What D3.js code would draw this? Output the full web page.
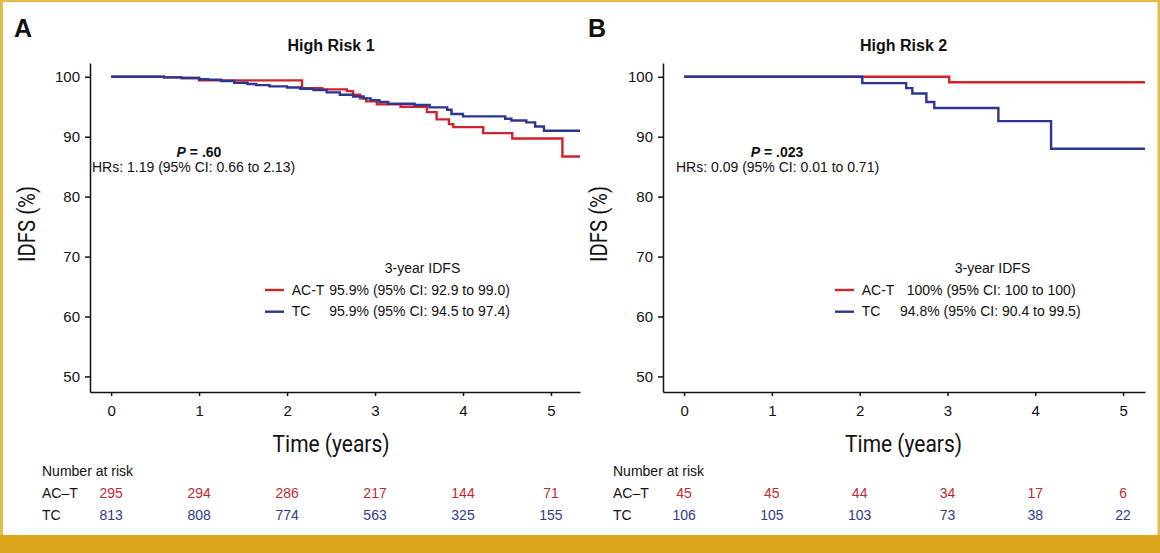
<!DOCTYPE html>
<html><head><meta charset="utf-8">
<script src="https://cdn.jsdelivr.net/npm/d3@7"></script>
<style>
body{margin:0;background:#fff}
svg{display:block}
text{font-family:"Liberation Sans",Arial,Helvetica,sans-serif;fill:#111}
.cond{font-family:Roboto,"Liberation Sans",sans-serif}
</style>
</head><body>
<svg id="c" width="1160" height="553"></svg>
<script>
// ---------- DATA ----------
const timeTicks = [0, 1, 2, 3, 4, 5];
const idfsTicks = [50, 60, 70, 80, 90, 100];
const groups = ["AC\u2013T", "TC"];

// Panel A (High Risk 1) Kaplan-Meier step points: time (years), IDFS (%)
const hr1_ACT_time = [0, 0.6, 0.8, 1.0, 2.17, 2.4, 2.68, 2.75, 2.83, 2.9, 3.02, 3.29, 3.59, 3.7, 3.84, 3.89, 4.23, 4.56, 5.13, 5.33];
const hr1_ACT_idfs = [100, 99.9, 99.8, 99.4, 98.1, 97.9, 97.6, 97.0, 96.4, 95.9, 95.4, 95.0, 94.1, 92.9, 92.1, 91.6, 90.6, 89.7, 86.7, 86.7];
const hr1_TC_time = [0, 0.6, 0.8, 1.0, 1.1, 1.25, 1.4, 1.55, 1.65, 1.8, 2.0, 2.15, 2.3, 2.45, 2.6, 2.75, 2.87, 2.95, 3.05, 3.15, 3.45, 3.62, 3.82, 3.87, 4.0, 4.48, 4.55, 4.72, 4.82, 4.92, 5.33];
const hr1_TC_idfs = [100, 99.9, 99.8, 99.6, 99.5, 99.3, 99.0, 98.8, 98.6, 98.4, 98.2, 98.0, 97.8, 97.4, 97.0, 96.7, 96.4, 96.1, 95.8, 95.5, 95.3, 94.9, 94.5, 93.8, 93.4, 93.0, 92.7, 92.4, 91.7, 91.0, 91.0];

// Panel B (High Risk 2)
const hr2_ACT_time = [0, 3.02, 5.25];
const hr2_ACT_idfs = [100, 99.1, 99.1];
const hr2_TC_time = [0, 2.03, 2.53, 2.6, 2.76, 2.85, 3.58, 4.18, 5.25];
const hr2_TC_idfs = [100, 98.95, 98.1, 97.2, 95.8, 94.8, 92.6, 88.0, 88.0];

// Number at risk
const hr1_risk_ACT = [295, 294, 286, 217, 144, 71];
const hr1_risk_TC = [813, 808, 774, 563, 325, 155];
const hr2_risk_ACT = [45, 45, 44, 34, 17, 6];
const hr2_risk_TC = [106, 105, 103, 73, 38, 22];

// Texts
const panelLetters = ["A", "B"];
const panelTitles = ["High Risk 1", "High Risk 2"];
const pValues = [".60", ".023"];
const hrTexts = ["HRs: 1.19 (95% CI: 0.66 to 2.13)", "HRs: 0.09 (95% CI: 0.01 to 0.71)"];
const legendACT = ["95.9% (95% CI: 92.9 to 99.0)", "100% (95% CI: 100 to 100)"];
const legendTC = ["95.9% (95% CI: 94.5 to 97.4)", "94.8% (95% CI: 90.4 to 99.5)"];

// ---------- LAYOUT ----------
const RED = "#d1232b", BLUE = "#2c3590";
const RED_T = "#c22a30", BLUE_T = "#2f3a8e";
const GOLD = "#dda71d";

const panels = [
  { letterX: 14, xDomain: [-0.24, 5.33], xRange: [90, 580],
    ACT: [hr1_ACT_time, hr1_ACT_idfs], TC: [hr1_TC_time, hr1_TC_idfs],
    riskACT: hr1_risk_ACT, riskTC: hr1_risk_TC,
    ytitleX: 35, pX: 199, hrX: 92, legLineX: 265, legTextX: 291.7, legValX: [329.3, 329.3], legTitleX: 422.5, tableX: 42 },
  { letterX: 588, xDomain: [-0.24, 5.25], xRange: [663, 1145],
    ACT: [hr2_ACT_time, hr2_ACT_idfs], TC: [hr2_TC_time, hr2_TC_idfs],
    riskACT: hr2_risk_ACT, riskTC: hr2_risk_TC,
    ytitleX: 607, pX: 777, hrX: 676, legLineX: 835, legTextX: 861.7, legValX: [906.7, 900], legTitleX: 992.5, tableX: 613 }
];

const svg = d3.select("#c");

// frame
svg.append("rect").attr("x", 0).attr("y", 0).attr("width", 1160).attr("height", 553).attr("fill", "#fff");
svg.append("rect").attr("x", 0).attr("y", 0).attr("width", 1160).attr("height", 2).attr("fill", "#e6bb45");
svg.append("rect").attr("x", 0).attr("y", 0).attr("width", 3).attr("height", 553).attr("fill", "#e6bb45");
svg.append("rect").attr("x", 1157.5).attr("y", 0).attr("width", 2.5).attr("height", 553).attr("fill", "#e6bb45");
svg.append("rect").attr("x", 0).attr("y", 535).attr("width", 1160).attr("height", 18).attr("fill", GOLD);

const y = d3.scaleLinear().domain([47.4, 102.3]).range([392, 63]);

panels.forEach((p, i) => {
  const x = d3.scaleLinear().domain(p.xDomain).range(p.xRange);
  const g = svg.append("g");

  // panel letter
  g.append("text").attr("x", p.letterX).attr("y", 37).attr("font-size", 25).attr("font-weight", "bold")
    .text(panelLetters[i]);
  // title
  g.append("text").attr("x", x(2.5)).attr("y", 51).attr("text-anchor", "middle")
    .attr("font-size", 16).attr("font-weight", "bold").text(panelTitles[i]);

  // y axis
  const ya = g.append("g").attr("transform", `translate(${p.xRange[0]},0)`)
    .call(d3.axisLeft(y).tickValues(idfsTicks).tickSize(5).tickSizeOuter(0).tickPadding(5));
  ya.selectAll("text").attr("font-size", 15).attr("fill", "#111")
    .style("font-family", '"Liberation Sans",Arial,sans-serif');
  ya.selectAll("path,line").attr("stroke", "#111").attr("stroke-width", 1.5);

  // x axis
  const xa = g.append("g").attr("transform", `translate(0,392)`)
    .call(d3.axisBottom(x).tickValues(timeTicks).tickFormat(d3.format("d"))
      .tickSize(4).tickSizeOuter(0).tickPadding(9));
  xa.selectAll("text").attr("font-size", 15).attr("fill", "#111")
    .style("font-family", '"Liberation Sans",Arial,sans-serif');
  xa.selectAll("path,line").attr("stroke", "#111").attr("stroke-width", 1.5);

  // axis titles
  g.append("text").attr("class", "cond")
    .attr("transform", `translate(${p.ytitleX},224) rotate(-90)`)
    .attr("text-anchor", "middle").attr("font-size", 23)
    .attr("textLength", 76).attr("lengthAdjust", "spacingAndGlyphs").text("IDFS (%)");
  g.append("text").attr("class", "cond").attr("x", x(2.5)).attr("y", 452)
    .attr("text-anchor", "middle").attr("font-size", 23)
    .attr("textLength", 117).attr("lengthAdjust", "spacingAndGlyphs").text("Time (years)");

  // curves
  const line = d3.line().x(d => x(d[0])).y(d => y(d[1])).curve(d3.curveStepAfter);
  const toPts = arr => arr[0].map((t, k) => [t, arr[1][k]]);
  g.append("path").datum(toPts(p.ACT)).attr("d", line).attr("fill", "none")
    .attr("stroke", RED).attr("stroke-width", 2.4);
  g.append("path").datum(toPts(p.TC)).attr("d", line).attr("fill", "none")
    .attr("stroke", BLUE).attr("stroke-width", 2.4);

  // P value and HR
  const pt = g.append("text").attr("x", p.pX).attr("y", 157).attr("text-anchor", "middle")
    .attr("font-size", 14).attr("font-weight", "bold");
  pt.append("tspan").attr("font-style", "italic").text("P");
  pt.append("tspan").text(" = " + pValues[i]);
  g.append("text").attr("x", p.hrX).attr("y", 171.5).attr("font-size", 14).text(hrTexts[i]);

  // legend
  g.append("text").attr("x", p.legTitleX).attr("y", 273).attr("text-anchor", "middle")
    .attr("font-size", 14).text("3-year IDFS");
  const legRows = [
    { col: RED, name: "AC-T", val: legendACT[i], ly: 290, ty: 295, vx: p.legValX[0] },
    { col: BLUE, name: "TC", val: legendTC[i], ly: 311.7, ty: 316, vx: p.legValX[1] }
  ];
  legRows.forEach(r => {
    g.append("line").attr("x1", p.legLineX).attr("x2", p.legLineX + 19).attr("y1", r.ly).attr("y2", r.ly)
      .attr("stroke", r.col).attr("stroke-width", 2.4);
    g.append("text").attr("x", p.legTextX).attr("y", r.ty).attr("font-size", 14).text(r.name);
    g.append("text").attr("x", r.vx).attr("y", r.ty).attr("font-size", 14).text(r.val);
  });

  // number at risk table
  g.append("text").attr("x", p.tableX).attr("y", 476).attr("font-size", 14).text("Number at risk");
  g.append("text").attr("x", p.tableX).attr("y", 498).attr("font-size", 14).text(groups[0]);
  g.append("text").attr("x", p.tableX).attr("y", 520).attr("font-size", 14).text(groups[1]);
  g.selectAll(".ra").data(p.riskACT).enter().append("text")
    .attr("x", (d, k) => x(timeTicks[k])).attr("y", 498).attr("text-anchor", "middle")
    .attr("font-size", 14).style("fill", RED_T).text(d => d);
  g.selectAll(".rt").data(p.riskTC).enter().append("text")
    .attr("x", (d, k) => x(timeTicks[k])).attr("y", 520).attr("text-anchor", "middle")
    .attr("font-size", 14).style("fill", BLUE_T).text(d => d);
});
</script>
</body></html>
